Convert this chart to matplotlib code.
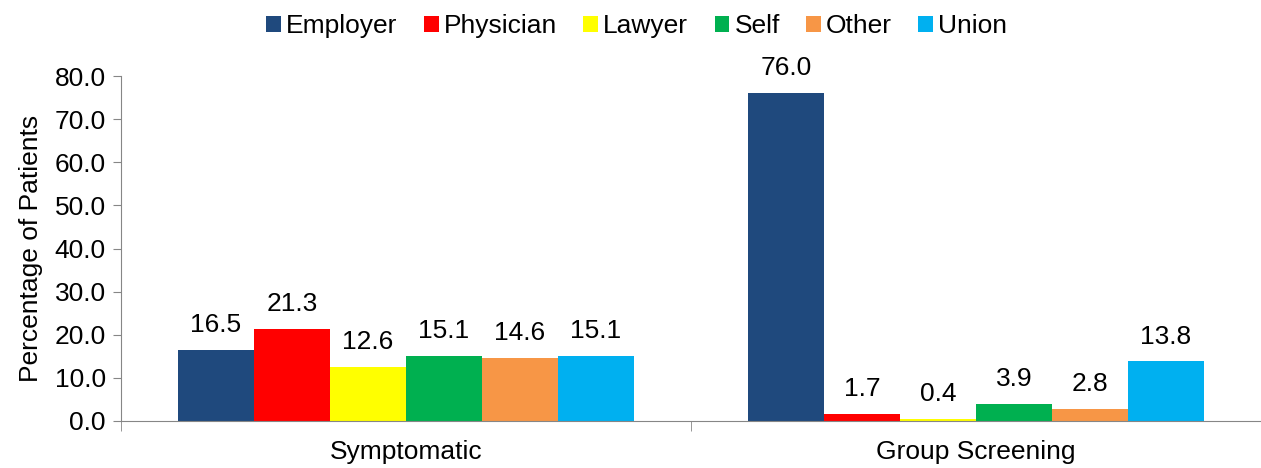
import matplotlib
matplotlib.use("Agg")
import matplotlib.pyplot as plt
import numpy as np

plt.rcParams['font.family'] = ['Liberation Sans', 'DejaVu Sans']

categories = ['Symptomatic', 'Group Screening']
sources = ['Employer', 'Physician', 'Lawyer', 'Self', 'Other', 'Union']
colors = ['#1f497d', '#ff0000', '#ffff00', '#00b050', '#f79646', '#00b0f0']
values = {
    'Employer': [16.5, 76.0],
    'Physician': [21.3, 1.7],
    'Lawyer': [12.6, 0.4],
    'Self': [15.1, 3.9],
    'Other': [14.6, 2.8],
    'Union': [15.1, 13.8],
}

FS = 19

fig = plt.figure(figsize=(12.61, 4.68), dpi=100)
ax = fig.add_axes([121 / 1261, 1 - 421 / 468, 1140 / 1261, 345 / 468])

x = np.arange(len(categories))
w = 0.8 / len(sources)
for i, s in enumerate(sources):
    pos = x - 0.4 + w * (i + 0.5)
    bars = ax.bar(pos, values[s], width=w, color=colors[i], label=s)
    for b, v in zip(bars, values[s]):
        ax.text(b.get_x() + b.get_width() / 2, v + 3, '%.1f' % v,
                ha='center', va='bottom', fontsize=FS)

ax.set_xlim(-0.5, 1.5)
ax.set_ylim(0, 80)
ax.set_yticks(np.arange(0, 81, 10))
ax.set_yticklabels(['%.1f' % t for t in np.arange(0, 81, 10)], fontsize=FS)
ax.set_ylabel('Percentage of Patients', fontsize=FS, labelpad=8)

ax.set_xticks(x)
ax.set_xticklabels(categories, fontsize=FS)
ax.tick_params(axis='x', length=0, pad=14)
ax.set_xticks([-0.5, 0.5, 1.5], minor=True)
ax.tick_params(axis='x', which='minor', length=7, color='#868686', direction='out')
ax.tick_params(axis='y', length=6, color='#868686', direction='out', pad=5)

for sp in ['top', 'right']:
    ax.spines[sp].set_visible(False)
for sp in ['left', 'bottom']:
    ax.spines[sp].set_color('#868686')

fig.legend(loc='upper center', bbox_to_anchor=(0.505, 1.02), ncol=6, frameon=False,
           fontsize=FS, handlelength=0.55, handleheight=0.55, handletextpad=0.2,
           columnspacing=1.0)

fig.savefig('out.png', dpi=100)
